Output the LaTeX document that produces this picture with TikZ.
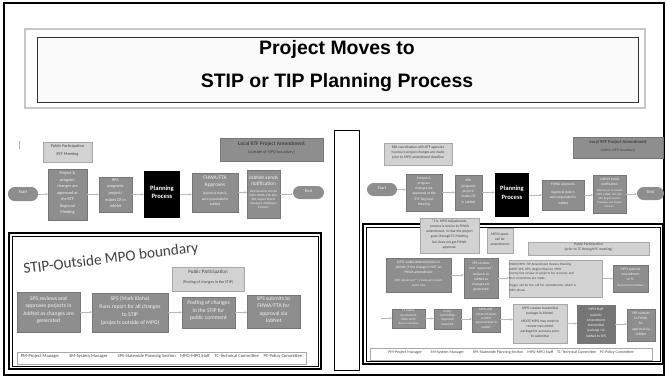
\documentclass[tikz,border=0pt]{standalone}
\usepackage{fontspec}
\setmainfont{Liberation Sans}
\newfontfamily\calib{Carlito}
\usepackage{tikz}
\usetikzlibrary{positioning,fit,arrows.meta}

\definecolor{boxgray}{RGB}{142,142,142}
\definecolor{boxdark}{RGB}{118,118,118}
\definecolor{boxedge}{RGB}{118,118,118}
\definecolor{lightfill}{RGB}{210,210,210}
\definecolor{lightedge}{RGB}{168,168,168}
\definecolor{paletext}{RGB}{242,242,242}
\definecolor{inktext}{RGB}{68,68,68}

\newcommand\tinyfont{\calib\fontsize{3.6}{5.6}\selectfont}
\newcommand\midfont{\calib\fontsize{4.6}{5.8}\selectfont}
\newcommand\smallfont{\calib\fontsize{4.8}{6.5}\selectfont}
\newcommand\notefont{\calib\fontsize{3.1}{4.5}\selectfont}
\newcommand\microfont{\calib\fontsize{2.6}{3.6}\selectfont}

\tikzset{
  gbox/.style={draw=boxedge, fill=boxgray, text=paletext, align=center, inner sep=0pt, font=\tinyfont},
  lbox/.style={draw=lightedge, fill=lightfill, text=inktext, align=center, inner sep=0pt, font=\tinyfont},
  pbox/.style={fill=black, text=white, align=center, inner sep=0pt, font=\calib\bfseries\fontsize{5.6}{7.4}\selectfont},
  pill/.style={fill=boxgray, text=paletext, rounded corners=0.2cm, inner sep=0pt, font=\calib\fontsize{3.8}{4.5}\selectfont},
  legbox/.style={draw=lightedge, fill=white, text=inktext, inner sep=0pt},
  flow/.style={draw=gray!55, line width=0.4pt, -{Stealth[length=2pt,width=2pt]}}
}

\begin{document}
\begin{tikzpicture}[x=0.03cm, y=-0.03cm]
    \useasboundingbox (0,0) rectangle (667,378);
    \draw[line width=1.2pt] (4,3) rectangle (664,375);

    % Title
    \draw[gray!45, line width=1.4pt] (25,29) rectangle (645,108);
    \draw[black!80, fill=gray!4, line width=0.6pt] (37,37) rectangle (638,102);
    \node[font=\bfseries\fontsize{16.6}{28}\selectfont, align=center] (title) at (337,66) {Project Moves to\\ STIP or TIP Planning Process};

    % Divider
    \draw[fill=white, line width=0.6pt] (334,130) rectangle (359,370);

    % Left slide, top flow
    \draw[gray!60] (19,141) -- (19,149);
    \node[lbox, fit={(43,142) (92,162)}] (pp1) {Public Participation\\[1pt] RTF Meeting};
    \node[gbox, fit={(220,138) (323,161)}, text=inktext] (loc1) {{\midfont\bfseries Local RTF Project Amendment}\\[1pt] (outside of MPO boundary)};
    \node[pill, fit={(8,187) (38,201)}] (start1) {Start};
    \node[gbox, fit={(48,169) (87,220)}] (a1) {Project \&\\ program\\ changes are\\ approved at\\ the RTF\\ Regional\\ Meeting};
    \node[gbox, fit={(99,177) (132,212)}] (a2) {RPA\\ programs\\ project/\\ makes CR in\\ JobNet};
    \node[pbox, fit={(144,171) (180,218)}] (pl1) {Planning\\ Process};
    \node[gbox, fit={(192,173) (238,212)}, font=\notefont] (a3) {{\midfont FHWA/FTA}\\[1pt]{\midfont Approves}\\[3pt] Approval date is\\ auto-populated in\\ JobNet};
    \node[gbox, fit={(247,170) (280,218)}, font=\microfont] (a4) {{\midfont JobNet sends}\\[2pt]{\midfont notification}\\[2pt] Web based to include\\ MPO, FHWA, FTA, RPA,\\ SPS, Region System\\ Managers and Region\\ Planners};
    \node[pill, fit={(293,186) (324,199)}] (end1) {End};
    \foreach \a/\b in {start1/a1, a1/a2, a2/pl1, pl1/a3, a3/a4, a4/end1}
        \draw[flow] (\a.east) -- (\a.east -| \b.west);

    % STIP outside MPO boundary
    \draw[line width=1.5pt, fill=white] (9,233) rectangle (321,369);
    \draw[line width=0.5pt] (12,236) rectangle (318,366);
    \node[text=black!75, font=\calib\fontsize{13}{15}\selectfont, rotate=7] (stiptitle) at (111,259) {STIP-Outside MPO boundary};
    \node[lbox, fit={(172,267) (244,291)}, font=\calib\fontsize{3.4}{4}\selectfont] (pp2) {{\calib\fontsize{4.3}{5}\selectfont Public Participation}\\[4pt] (Posting of changes in the STIP)};
    \node[gbox, fit={(17,292) (80,332)}, font=\smallfont] (s1) {SPS reviews and\\ approves projects in\\ JobNet as changes are\\ generated};
    \node[gbox, fit={(92,293) (168,332)}, font=\smallfont] (s2) {SPS (Mark Kloha)\\[1pt] Runs report for all changes\\ to STIP\\ (projects outside of MPO)};
    \node[gbox, fit={(182,297) (235,328)}, font=\smallfont] (s3) {Posting of changes\\ in the STIP for\\ public comment};
    \node[gbox, fit={(247,295) (300,328)}, font=\smallfont] (s4) {SPS submits to\\ FHWA/FTA for\\ approval via\\ JobNet};
    \foreach \a/\b in {s1/s2, s2/s3, s3/s4}
        \draw[flow] (\a.east) -- (\a.east -| \b.west);
    \node[legbox, fit={(17,352) (306,364)}, font=\calib\fontsize{3.9}{4.5}\selectfont] (leg1) {PM-Project Manager\hspace{2.2em}SM-System Manager\hspace{2.2em}SPS-Statewide Planning Section\hspace{1em}MPO-MPO Staff\hspace{1em}TC-Technical Committee\hspace{1em}PC-Policy Committee};

    % Right slide, top flow
    \node[lbox, fit={(384,143) (452,165)}, font=\notefont] (co2) {RPA coordination with RTF agencies\\ to ensure project changes are made\\ prior to MPO amendment deadline};
    \node[gbox, fit={(573,137) (663,158)}, text=inktext, font=\notefont] (loc2) {{\calib\bfseries\fontsize{3.9}{4.6}\selectfont Local RTF Project Amendment}\\[2pt] (within MPO boundary)};
    \node[pill, fit={(367,183) (397,196)}] (start2) {Start};
    \node[gbox, fit={(406,174) (442,211)}, font=\notefont] (b1) {Project \&\\ program\\ changes are\\ approved at the\\ RTF Regional\\ Meeting};
    \node[gbox, fit={(455,175) (482,210)}, font=\notefont] (b2) {RPA\\ programs\\ project/\\ makes CR\\ in JobNet};
    \node[pbox, fit={(495,173) (529,217)}] (pl2) {Planning\\ Process};
    \node[gbox, fit={(542,180) (584,210)}, font=\notefont] (b3) {FHWA Approves\\[2pt] Approval date is\\ auto-populated in\\ JobNet};
    \node[gbox, fit={(593,175) (626,213)}, font=\calib\fontsize{2.4}{3.3}\selectfont] (b4) {{\notefont JobNet sends}\\[1pt]{\notefont notification}\\[2pt] Web based, to include\\ MPO, FHWA, FTA, RPA,\\ SPS, Region System\\ Managers and Region\\ Planners};
    \node[pill, fit={(637,187) (664,200)}] (end2) {End};
    \foreach \a/\b in {start2/b1, b1/b2, b2/pl2, pl2/b3, b3/b4, b4/end2}
        \draw[flow] (\a.east) -- (\a.east -| \b.west);

    % Right slide, MPO steps
    \draw[line width=1.5pt, fill=white] (363,224) rectangle (663,364);
    \draw[line width=0.5pt] (366,227) rectangle (660,361);
    \node[lbox, fit={(420,218) (479,253)}, font=\notefont] (note) {* For MPO Adjustments,\\ process is similar to FHWA\\ amendment, in that the project\\ goes through TC Meeting\\ but does not get FHWA\\ approval.};
    \node[lbox, fit={(487,228) (513,253)}, font=\notefont] (call) {MPO issues\\ call for\\ amendments};
    \node[lbox, fit={(528,242) (649,255)}, font=\notefont] (pp3) {Public Participation\\ (prior to TC through PC meeting)};
    \node[gbox, fit={(386,258) (451,292)}, font=\notefont] (c1) {MPO makes determination in\\ JobNet, if the change is NOT an\\ FHWA amendment\\[2pt]{\calib\fontsize{2.5}{3.4}\selectfont MPO Adjustment** is balanced in Multi-}\\{\calib\fontsize{2.5}{3.4}\selectfont modal Tabs}};
    \node[gbox, fit={(464,258) (498,298)}, font=\notefont] (c2) {SPS reviews\\ and ``approves''\\ projects in\\ JobNet as\\ changes are\\ generated};
    \node[lbox, fit={(509,260) (602,297)}, font=\calib\fontsize{2.8}{4.1}\selectfont, align=left] (c3) {MDOT/MPO TIP Amendment Review Meeting\\ MDOT SPS, OPS, Region Planner, MPO\\ Line-by-line review of projects for accuracy and\\ final corrections are made.\\[2pt] Trigger will be the call for amendments, which is\\ MPO driven};
    \node[gbox, fit={(613,265) (648,292)}, font=\notefont] (c4) {MPO submits\\ amendment\\ to TC\\{\calib\fontsize{2.5}{3.4}\selectfont (Technical Committee)}};
    \foreach \a/\b in {c1/c2, c2/c3, c3/c4}
        \draw[flow] (\a.east) -- (\a.east -| \b.west);

    \coordinate (wrap) at (381,318);
    \node[gbox, fit={(392,309) (425,328)}, font=\calib\fontsize{2.8}{3.6}\selectfont] (d1) {TC makes\\ recommend-\\ ation to PC\\{\calib\fontsize{2.3}{3}\selectfont (Policy Committee)}};
    \node[gbox, fit={(434,309) (461,329)}, font=\calib\fontsize{2.9}{3.7}\selectfont] (d2) {Policy\\ Committee\\ Approval\\ required};
    \node[gbox, fit={(472,307) (500,332)}, font=\calib\fontsize{2.8}{3.8}\selectfont] (d3) {MPO staff\\ enters PC date\\ as MPO\\ approval date in\\ JobNet};
    \node[lbox, fit={(513,304) (567,343)}, font=\notefont] (d4) {MPO creates transmittal\\ package in JobNet.\\[2pt] MDOT/MPO may meet to\\ review transmittal\\ package for accuracy prior\\ to submittal};
    \node[gbox, fit={(577,305) (615,343)}, fill=boxdark, font=\notefont] (d5) {MPO Staff\\ submits\\ Amendment\\ transmittal\\ package via\\ JobNet to SPS};
    \node[gbox, fit={(627,309) (655,341)}, font=\notefont] (d6) {SPS submits\\ to FHWA\\ for\\ approval via\\ JobNet};
    \draw[flow] (wrap) -- (wrap -| d1.west);
    \foreach \a/\b in {d1/d2, d2/d3, d3/d4, d4/d5, d5/d6}
        \draw[flow] (\a.east) -- (\a.east -| \b.west);
    \node[legbox, fit={(370,348) (652,360)}, font=\calib\fontsize{3.4}{4}\selectfont] (leg2) {PM-Project Manager\hspace{2.2em}SM-System Manager\hspace{2.2em}SPS-Statewide Planning Section\hspace{1em}MPO-MPO Staff\hspace{1em}TC-Technical Committee\hspace{1em}PC-Policy Committee};
\end{tikzpicture}
\end{document}
